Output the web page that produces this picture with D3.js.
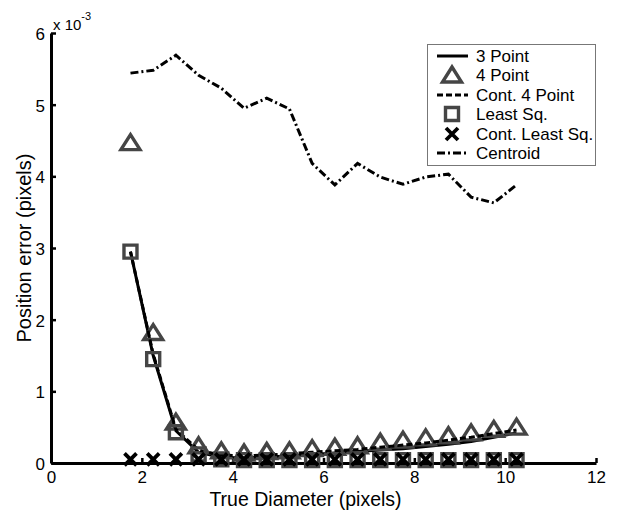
<!DOCTYPE html>
<html>
<head>
<meta charset="utf-8">
<script src="https://cdn.jsdelivr.net/npm/d3@7/dist/d3.min.js"></script>
<style>
  html, body { margin: 0; padding: 0; background: #fff; }
  svg { display: block; font-family: "Liberation Sans", Arial, sans-serif; }
</style>
</head>
<body>
<svg id="chart" width="618" height="510"></svg>
<script>
// True diameter (pixels) at which each method was evaluated
const diameters = [1.75, 2.25, 2.75, 3.25, 3.75, 4.25, 4.75, 5.25, 5.75, 6.25,
                   6.75, 7.25, 7.75, 8.25, 8.75, 9.25, 9.75, 10.25];

// Position error, in units of 1e-3 pixels
const threePoint   = [2.95, 1.50, 0.45, 0.15, 0.08, 0.07, 0.08, 0.10, 0.12, 0.14,
                      0.16, 0.18, 0.20, 0.23, 0.26, 0.30, 0.36, 0.42];
const fourPoint    = [4.47, 1.82, 0.57, 0.24, 0.17, 0.14, 0.16, 0.17, 0.20, 0.22,
                      0.24, 0.29, 0.32, 0.35, 0.38, 0.42, 0.47, 0.50];
const contFourPt   = [2.95, 1.52, 0.47, 0.18, 0.11, 0.10, 0.11, 0.13, 0.15, 0.17,
                      0.19, 0.22, 0.25, 0.28, 0.32, 0.36, 0.41, 0.46];
const leastSq      = [2.95, 1.45, 0.43, 0.12, 0.05, 0.04, 0.04, 0.04, 0.04, 0.04,
                      0.04, 0.04, 0.04, 0.04, 0.04, 0.04, 0.04, 0.04];
const contLeastSq  = [0.05, 0.05, 0.05, 0.05, 0.05, 0.05, 0.05, 0.05, 0.05, 0.05,
                      0.05, 0.05, 0.05, 0.05, 0.05, 0.05, 0.05, 0.05];
const centroid     = [5.44, 5.48, 5.69, 5.41, 5.23, 4.95, 5.09, 4.94, 4.18, 3.88,
                      4.18, 3.99, 3.89, 3.99, 4.03, 3.71, 3.63, 3.88];

const xTicks = [0, 2, 4, 6, 8, 10, 12];
const yTicks = [0, 1, 2, 3, 4, 5, 6];
const legendLabels = ["3 Point", "4 Point", "Cont. 4 Point", "Least Sq.", "Cont. Least Sq.", "Centroid"];

const svg = d3.select("#chart");
const plot = { left: 51, right: 596, top: 33, bottom: 463 };

const x = d3.scaleLinear().domain([0, 12]).range([plot.left, plot.right]);
const y = d3.scaleLinear().domain([0, 6]).range([plot.bottom, plot.top]);

const markerGray = "#454545";

// ---- axes (left and bottom only, ticks pointing inward) ----
const xAxis = svg.append("g")
  .attr("transform", `translate(0,${plot.bottom})`)
  .call(d3.axisBottom(x).tickValues(xTicks).tickFormat(d3.format("d"))
        .tickSizeInner(-5).tickSizeOuter(0).tickPadding(8));
const yAxis = svg.append("g")
  .attr("transform", `translate(${plot.left},0)`)
  .call(d3.axisLeft(y).tickValues(yTicks).tickFormat(d3.format("d"))
        .tickSizeInner(-5).tickSizeOuter(0).tickPadding(6));

[xAxis, yAxis].forEach(g => {
  g.select(".domain").attr("stroke", "#000").attr("stroke-width", 3);
  g.selectAll(".tick line").attr("stroke", "#000").attr("stroke-width", 2.5);
  g.selectAll(".tick text").attr("fill", "#000").style("font-size", "17px")
    .style("font-family", "'Liberation Sans', Arial, sans-serif");
});
yAxis.selectAll(".tick text").attr("dy", "0.38em");

// exponent label above the y axis
const expo = svg.append("text")
  .attr("x", 53).attr("y", 30)
  .style("font-size", "15px").attr("fill", "#000");
expo.append("tspan").text("x 10");
expo.append("tspan").attr("dy", -10).style("font-size", "11px").text("-3");

// axis titles
svg.append("text")
  .attr("x", (plot.left + plot.right) / 2 - 18).attr("y", 506)
  .attr("text-anchor", "middle").style("font-size", "19.5px").attr("fill", "#000")
  .text("True Diameter (pixels)");
svg.append("text")
  .attr("transform", `translate(31,${(plot.top + plot.bottom) / 2}) rotate(-90)`)
  .attr("text-anchor", "middle").style("font-size", "20px").attr("fill", "#000")
  .text("Position error (pixels)");

// ---- marker shapes ----
const triPath = "M0,-8L9.5,7L-9.5,7Z";
const sqPath = "M-6.5,-6.5H6.5V6.5H-6.5Z";
const xPath = "M-6,-6L6,6M-6,6L6,-6";

const line = d3.line().x((d, i) => x(diameters[i])).y(d => y(d));
const plotG = svg.append("g");

function drawLine(values, dash) {
  plotG.append("path").datum(values)
    .attr("d", line).attr("fill", "none")
    .attr("stroke", "#000").attr("stroke-width", 3)
    .attr("stroke-dasharray", dash || null);
}
function drawMarkers(values, path, stroke, width) {
  plotG.append("g").selectAll("path").data(values).join("path")
    .attr("transform", (d, i) => `translate(${x(diameters[i])},${y(d)})`)
    .attr("d", path).attr("fill", "none")
    .attr("stroke", stroke).attr("stroke-width", width)
    .attr("stroke-linejoin", "miter");
}

const dashCont = "6,3";
const dashCentroid = "8,3,2,3";

drawLine(threePoint);
drawMarkers(fourPoint, triPath, markerGray, 3.4);
drawLine(contFourPt, dashCont);
drawMarkers(leastSq, sqPath, markerGray, 3.4);
drawMarkers(contLeastSq, xPath, "#000", 3.8);
drawLine(centroid, dashCentroid);

// ---- legend ----
const leg = svg.append("g");
leg.append("rect").attr("x", 427.5).attr("y", 44.5).attr("width", 168).attr("height", 121)
  .attr("fill", "#fff").attr("stroke", "#777").attr("stroke-width", 1);

const rowY = [56, 75, 95, 114, 134, 153];
const sx0 = 437, sx1 = 468, sxm = 452;
legendLabels.forEach((label, i) => {
  const ry = rowY[i];
  if (i === 0) leg.append("line").attr("x1", sx0).attr("x2", sx1).attr("y1", ry).attr("y2", ry)
    .attr("stroke", "#000").attr("stroke-width", 3);
  if (i === 2) leg.append("line").attr("x1", sx0).attr("x2", sx1).attr("y1", ry).attr("y2", ry)
    .attr("stroke", "#000").attr("stroke-width", 3).attr("stroke-dasharray", dashCont);
  if (i === 5) leg.append("line").attr("x1", sx0).attr("x2", sx1).attr("y1", ry).attr("y2", ry)
    .attr("stroke", "#000").attr("stroke-width", 3).attr("stroke-dasharray", dashCentroid);
  if (i === 1) leg.append("path").attr("transform", `translate(${sxm},${ry})`).attr("d", triPath)
    .attr("fill", "none").attr("stroke", markerGray).attr("stroke-width", 3.4);
  if (i === 3) leg.append("path").attr("transform", `translate(${sxm},${ry})`).attr("d", sqPath)
    .attr("fill", "none").attr("stroke", markerGray).attr("stroke-width", 3.4);
  if (i === 4) leg.append("path").attr("transform", `translate(${sxm},${ry})`).attr("d", xPath)
    .attr("fill", "none").attr("stroke", "#000").attr("stroke-width", 3.8);
  leg.append("text").attr("x", 476).attr("y", ry).attr("dy", "0.36em")
    .style("font-size", "17px").attr("fill", "#000").text(label);
});
</script>
</body>
</html>
